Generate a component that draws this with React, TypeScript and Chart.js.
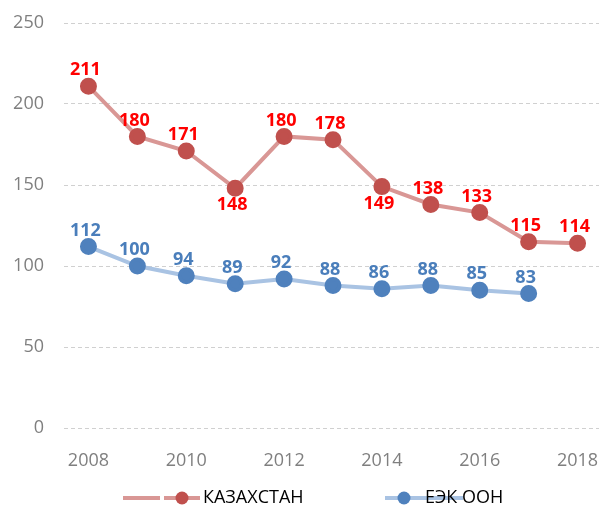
import React, { useEffect, useRef } from "react";
import { Chart, registerables } from "chart.js";

Chart.register(...registerables);

const years = ["2008", "2009", "2010", "2011", "2012", "2013", "2014", "2015", "2016", "2017", "2018"];
const kazakhstan = [211, 180, 171, 148, 180, 178, 149, 138, 133, 115, 114];
const unece = [112, 100, 94, 89, 92, 88, 86, 88, 85, 83, null];
const yTicks = [0, 50, 100, 150, 200, 250];
const seriesNames = ["КАЗАХСТАН", "ЕЭК ООН"];
const redLabelsBelow = [3, 6];

const FONT = "'Open Sans', sans-serif";

const labelPlugin = {
  id: "valueLabels",
  afterDatasetsDraw(chart: any) {
    const ctx = chart.ctx;
    ctx.save();
    ctx.font = `bold 18px ${FONT}`;
    ctx.textAlign = "center";
    ctx.textBaseline = "middle";
    chart.data.datasets.forEach((ds: any, di: number) => {
      const meta = chart.getDatasetMeta(di);
      meta.data.forEach((pt: any, i: number) => {
        const v = ds.data[i];
        if (v == null) return;
        const below = di === 0 && redLabelsBelow.includes(i);
        ctx.fillStyle = di === 0 ? "#FF0000" : "#4A7EBB";
        const y = below ? pt.y + 17 : pt.y - 16;
        ctx.fillText(String(v), pt.x - 3, y);
      });
    });
    ctx.restore();
  },
};

const legendPlugin = {
  id: "customLegend",
  afterDraw(chart: any) {
    const ctx = chart.ctx;
    const y = 498;
    ctx.save();
    ctx.lineWidth = 4;
    ctx.strokeStyle = "#D99795";
    ctx.beginPath();
    ctx.moveTo(123, y);
    ctx.lineTo(160, y);
    ctx.moveTo(164, y);
    ctx.lineTo(200, y);
    ctx.stroke();
    ctx.fillStyle = "#C0504D";
    ctx.beginPath();
    ctx.arc(182, y, 6.5, 0, Math.PI * 2);
    ctx.fill();
    ctx.strokeStyle = "#A9C3E3";
    ctx.beginPath();
    ctx.moveTo(385, y);
    ctx.lineTo(463, y);
    ctx.stroke();
    ctx.fillStyle = "#4F81BD";
    ctx.beginPath();
    ctx.arc(404, y, 6.5, 0, Math.PI * 2);
    ctx.fill();
    ctx.font = `18px ${FONT}`;
    ctx.fillStyle = "#000000";
    ctx.textAlign = "left";
    ctx.textBaseline = "middle";
    ctx.fillText(seriesNames[0], 203, y);
    ctx.fillText(seriesNames[1], 425, y);
    ctx.restore();
  },
};

export default function App() {
  const ref = useRef<HTMLCanvasElement>(null);
  useEffect(() => {
    if (!ref.current) return;
    const chart = new Chart(ref.current, {
      type: "line",
      data: {
        labels: years,
        datasets: [
          {
            label: seriesNames[0],
            data: kazakhstan,
            borderColor: "#D99795",
            backgroundColor: "#C0504D",
            pointBackgroundColor: "#C0504D",
            pointBorderColor: "#C0504D",
            borderWidth: 4,
            pointRadius: 6.5,
            tension: 0,
          },
          {
            label: seriesNames[1],
            data: unece,
            borderColor: "#A9C3E3",
            backgroundColor: "#4F81BD",
            pointBackgroundColor: "#4F81BD",
            pointBorderColor: "#4F81BD",
            borderWidth: 4,
            pointRadius: 6.5,
            tension: 0,
          },
        ],
      },
      options: {
        animation: false,
        responsive: true,
        maintainAspectRatio: false,
        layout: { autoPadding: false, padding: { top: 23, left: 0, right: 0, bottom: 0 } },
        plugins: {
          legend: { display: false },
          tooltip: { enabled: false },
        },
        scales: {
          x: {
            offset: true,
            grid: { display: false },
            border: { display: false },
            ticks: {
              autoSkip: false,
              maxRotation: 0,
              color: "#7F7F7F",
              font: { family: FONT, size: 18 },
              padding: 14,
              callback: (_v: any, i: number) => (i % 2 === 0 ? years[i] : ""),
            },
            afterFit: (s: any) => {
              s.height = 80;
              s.paddingLeft = 0;
              s.paddingRight = 0;
            },
          },
          y: {
            min: 0,
            max: 250,
            afterBuildTicks: (s: any) => {
              s.ticks = yTicks.map((v) => ({ value: v }));
            },
            grid: { color: "#D0D0D0", drawTicks: false, lineWidth: 1 },
            border: { display: false, dash: [4, 3] },
            ticks: {
              color: "#7F7F7F",
              font: { family: FONT, size: 18 },
              padding: 20,
            },
            afterFit: (s: any) => {
              s.width = 64;
              s.paddingTop = 0;
              s.paddingBottom = 0;
            },
          },
        },
      },
      plugins: [labelPlugin, legendPlugin],
    });
    return () => chart.destroy();
  }, []);
  return (
    <div style={{ position: "absolute", left: 0, top: 0, width: 599, height: 508, overflow: "hidden" }}>
      <div style={{ position: "relative", width: 602, height: 508 }}>
        <canvas ref={ref} />
      </div>
    </div>
  );
}
